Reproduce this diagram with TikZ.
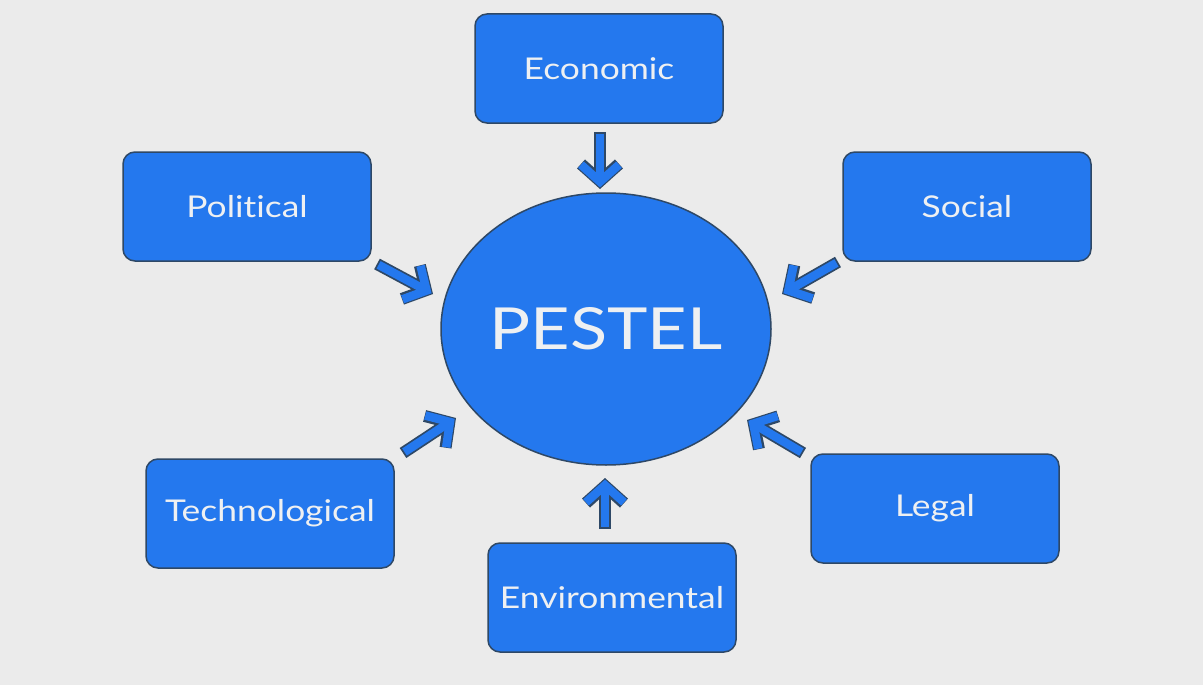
\documentclass[tikz,border=0pt]{standalone}
\usepackage{fontspec}
\setmainfont{Lato}[FakeStretch=1.18,RawFeature=-liga]
\usetikzlibrary{shapes.geometric,arrows.meta}
\definecolor{bg}{HTML}{EBEBEB}
\definecolor{boxblue}{HTML}{2478EE}
\definecolor{edge}{HTML}{2E4866}
\definecolor{txt}{HTML}{EEF0F2}
\tikzset{
  factor/.style={draw=edge, line width=1.5pt, fill=boxblue, rounded corners=12pt,
    minimum width=248pt, minimum height=109pt, inner sep=0pt,
    text=txt, font=\fontsize{30}{33}\selectfont},
  core/.style={ellipse, draw=edge, line width=1.5pt, fill=boxblue,
    minimum width=330pt, minimum height=272pt, inner sep=0pt,
    text=txt, font=\fontsize{58}{62}\selectfont},
  blockarrow/.style={draw=edge, line width=12pt, line cap=butt,
    -{Straight Barb[length=17pt,width=38pt]},
    postaction={draw=boxblue, line width=8.5pt, line cap=butt,
      -{Straight Barb[length=17pt,width=38pt]}, shorten >=1.6pt, shorten <=1.8pt}},
}
\begin{document}
\begin{tikzpicture}[x=1pt,y=-1pt]
\fill[bg] (0,0) rectangle (1203,685);
\useasboundingbox (0,0) rectangle (1203,685);
\node[core] (pestel) at (606,329) {\makebox[0pt]{PESTEL}};
\node[factor] (eco) at (599,68.5) {Economic};
\node[factor] (pol) at (247,206.5) {Political};
\node[factor] (soc) at (967,206.5) {Social};
\node[factor] (tec) at (270,513.5) {Technological};
\node[factor] (leg) at (935,508.5) {Legal};
\node[factor] (env) at (612,597.5) {Environmental};
\coordinate (ecoA) at (600,132);  \coordinate (ecoB) at (600,189);
\coordinate (polA) at (377,264);  \coordinate (polB) at (433,294);
\coordinate (socA) at (838,262);  \coordinate (socB) at (782,294);
\coordinate (tecA) at (403,453);  \coordinate (tecB) at (456,418);
\coordinate (legA) at (803,453);  \coordinate (legB) at (747,420);
\coordinate (envA) at (605,529);  \coordinate (envB) at (605,478);
\draw[blockarrow] (ecoA) -- (ecoB);
\draw[blockarrow] (polA) -- (polB);
\draw[blockarrow] (socA) -- (socB);
\draw[blockarrow] (tecA) -- (tecB);
\draw[blockarrow] (legA) -- (legB);
\draw[blockarrow] (envA) -- (envB);
\end{tikzpicture}
\end{document}
